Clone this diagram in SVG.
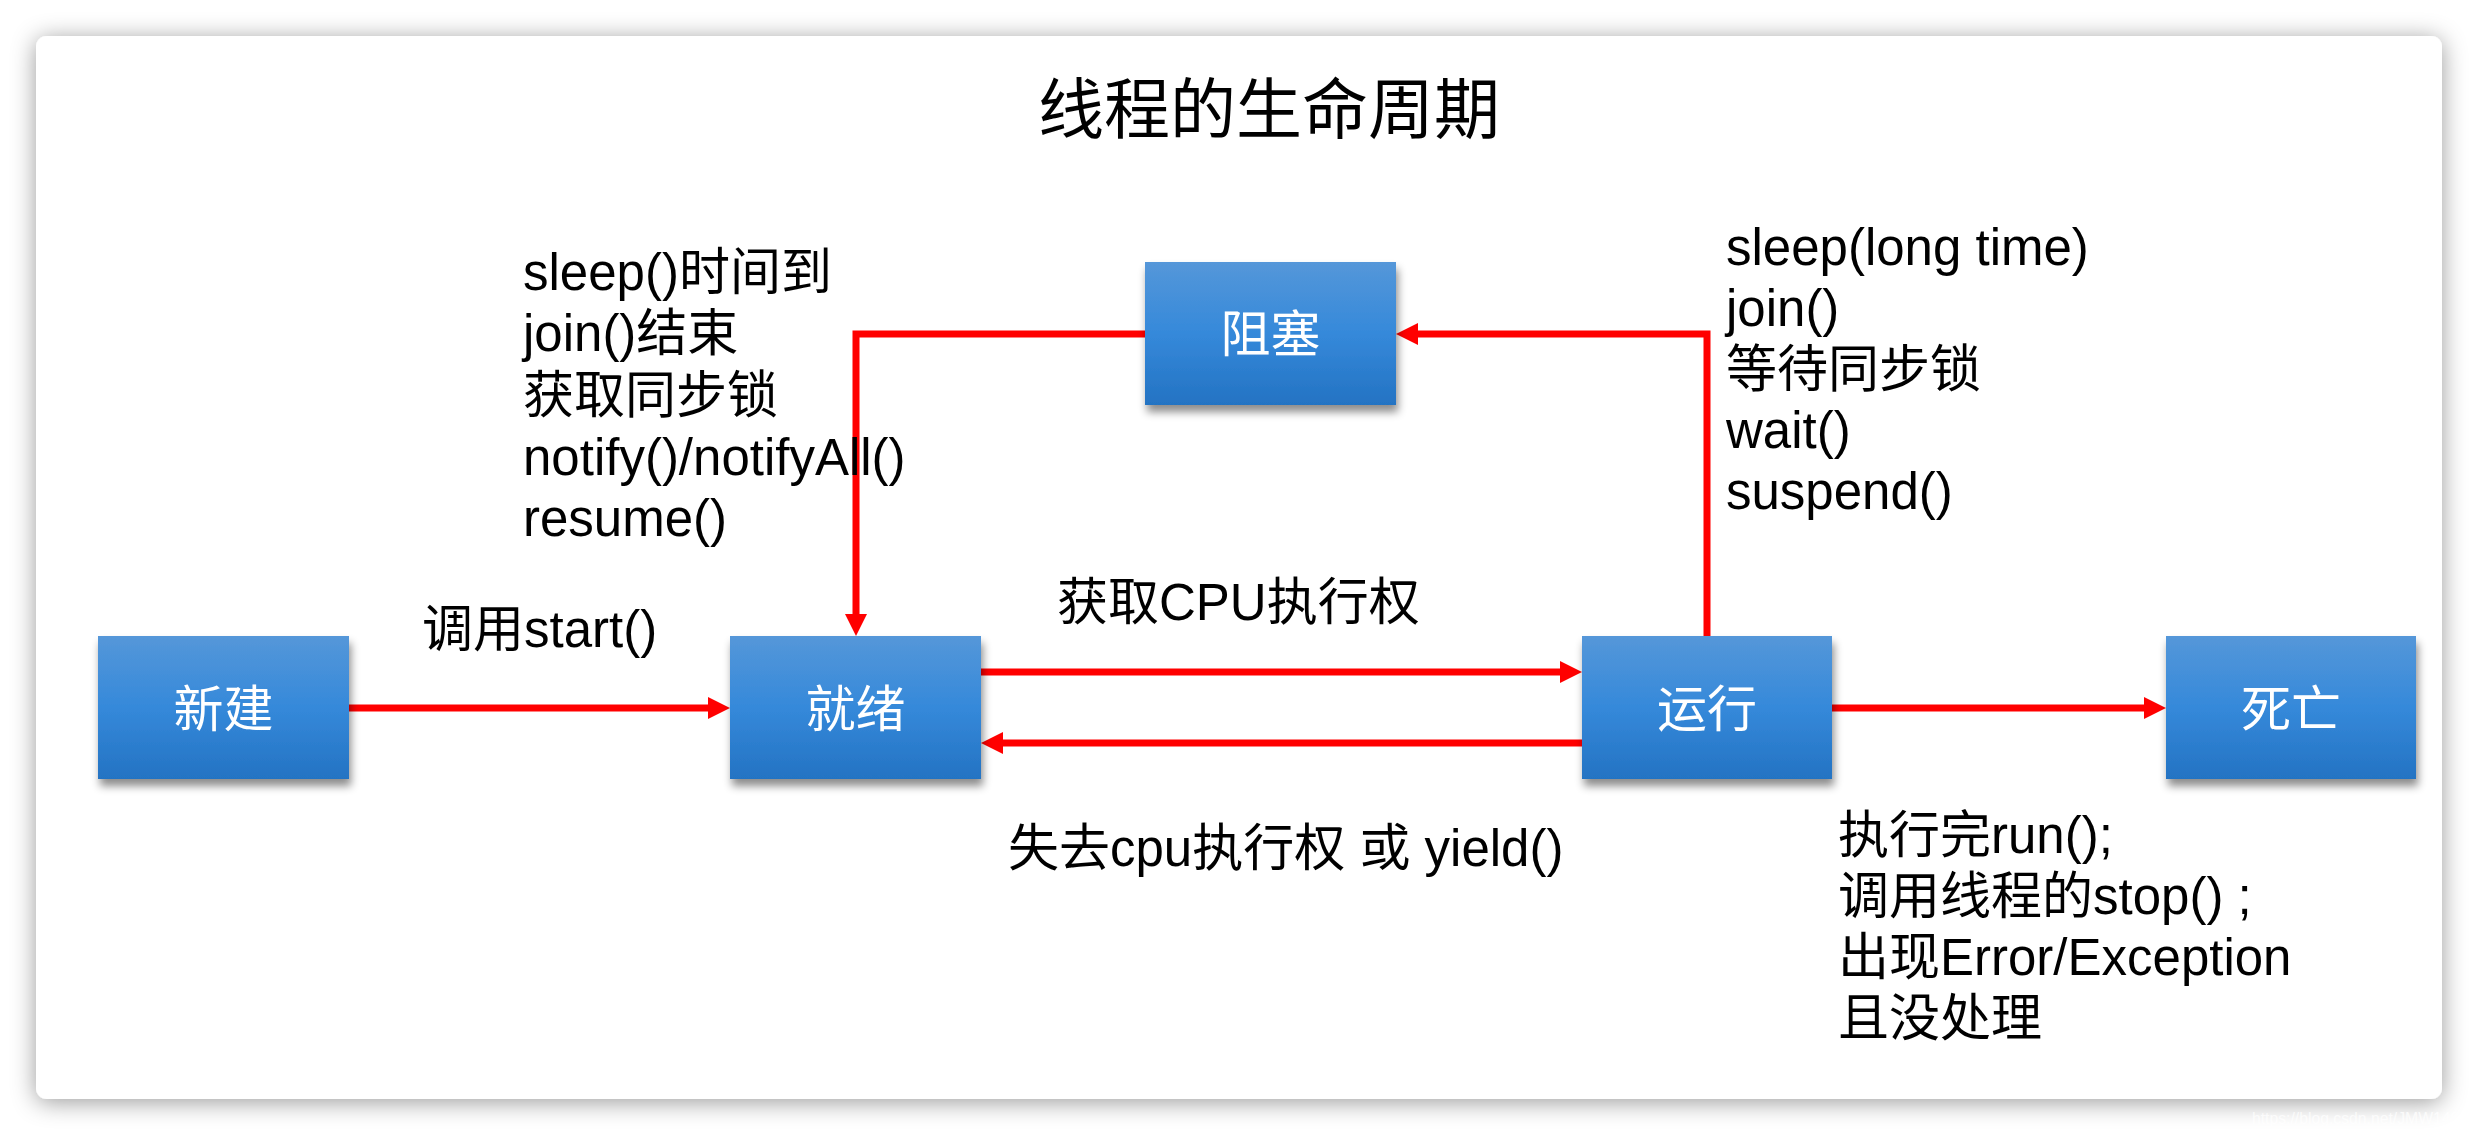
<svg xmlns="http://www.w3.org/2000/svg" width="2478" height="1136" viewBox="0 0 2478 1136">
  <style>
    .lbl { font-family: "Liberation Sans", "Noto Sans CJK SC", sans-serif; font-size: 51px; fill: #000; }
    .title { font-family: "Noto Sans CJK SC", sans-serif; font-size: 66px; fill: #000; }
    .nodetext { font-family: "Noto Sans CJK SC", sans-serif; font-size: 50px; fill: #fff; text-anchor: middle; }
    .node rect { fill: url(#blueGrad); filter: url(#nodeShadow); }
    .conn { fill: none; stroke: #ff0000; stroke-width: 7; stroke-linejoin: miter; stroke-linecap: butt; marker-end: url(#arrow); }
    .wm { font-family: "Liberation Sans", sans-serif; font-size: 16px; fill: #ffffff; fill-opacity: 0.75; }
  </style>
  <defs>
    <linearGradient id="blueGrad" x1="0" y1="0" x2="0" y2="1">
      <stop offset="0" stop-color="#5597d9"/>
      <stop offset="0.5" stop-color="#3589da"/>
      <stop offset="1" stop-color="#2473c3"/>
    </linearGradient>
    <filter id="cardShadow" x="-5%" y="-10%" width="110%" height="120%">
      <feDropShadow dx="0" dy="3" stdDeviation="12" flood-color="#000" flood-opacity="0.4"/>
    </filter>
    <filter id="nodeShadow" x="-10%" y="-10%" width="125%" height="130%">
      <feDropShadow dx="2" dy="7" stdDeviation="4" flood-color="#000" flood-opacity="0.45"/>
    </filter>
    <marker id="arrow" viewBox="0 0 22 22" refX="0" refY="11" markerWidth="22" markerHeight="22" markerUnits="userSpaceOnUse" orient="auto">
      <path d="M0,0 L22,11 L0,22 z" fill="#ff0000"/>
    </marker>
  </defs>

  <rect x="0" y="0" width="2478" height="1136" fill="#ffffff"/>
  <rect id="card" x="36" y="36" width="2406" height="1063" rx="11" ry="11" fill="#ffffff" filter="url(#cardShadow)"/>

  <text id="title" class="title" x="1038" y="133">线程的生命周期</text>

  <g id="connectors">
    <path class="conn" d="M349,708 H708"/>
    <path class="conn" d="M981,672 H1560"/>
    <path class="conn" d="M1582,743 H1003"/>
    <path class="conn" d="M1832,708 H2144"/>
    <path class="conn" d="M1707,636 V334 H1418"/>
    <path class="conn" d="M1145,334 H856 V614"/>
  </g>

  <g id="node-new" class="node">
    <rect x="98" y="636" width="251" height="143"/>
    <text class="nodetext" x="223.5" y="727">新建</text>
  </g>
  <g id="node-ready" class="node">
    <rect x="730" y="636" width="251" height="143"/>
    <text class="nodetext" x="855.5" y="727">就绪</text>
  </g>
  <g id="node-running" class="node">
    <rect x="1582" y="636" width="250" height="143"/>
    <text class="nodetext" x="1707" y="727">运行</text>
  </g>
  <g id="node-dead" class="node">
    <rect x="2166" y="636" width="250" height="143"/>
    <text class="nodetext" x="2291" y="727">死亡</text>
  </g>
  <g id="node-blocked" class="node">
    <rect x="1145" y="262" width="251" height="143"/>
    <text class="nodetext" x="1270.5" y="352">阻塞</text>
  </g>

  <g id="labels">
    <text class="lbl">
      <tspan x="523" y="290">sleep()时间到</tspan>
      <tspan x="523" y="351">join()结束</tspan>
      <tspan x="523" y="413">获取同步锁</tspan>
      <tspan x="523" y="475">notify()/notifyAll()</tspan>
      <tspan x="523" y="536">resume()</tspan>
    </text>
    <text class="lbl">
      <tspan x="1726" y="265">sleep(long time)</tspan>
      <tspan x="1726" y="326">join()</tspan>
      <tspan x="1726" y="387">等待同步锁</tspan>
      <tspan x="1726" y="448">wait()</tspan>
      <tspan x="1726" y="509">suspend()</tspan>
    </text>
    <text class="lbl" x="422" y="647">调用start()</text>
    <text class="lbl" x="1057" y="620">获取CPU执行权</text>
    <text class="lbl" x="1008" y="866">失去cpu执行权 或 yield()</text>
    <text class="lbl">
      <tspan x="1838" y="853">执行完run();</tspan>
      <tspan x="1838" y="914">调用线程的stop() ;</tspan>
      <tspan x="1838" y="975">出现Error/Exception</tspan>
      <tspan x="1838" y="1036">且没处理</tspan>
    </text>
  </g>

  <text class="wm" x="2252" y="1124" textLength="216" lengthAdjust="spacingAndGlyphs">https://blog.csdn.net/JMW1407</text>
</svg>
